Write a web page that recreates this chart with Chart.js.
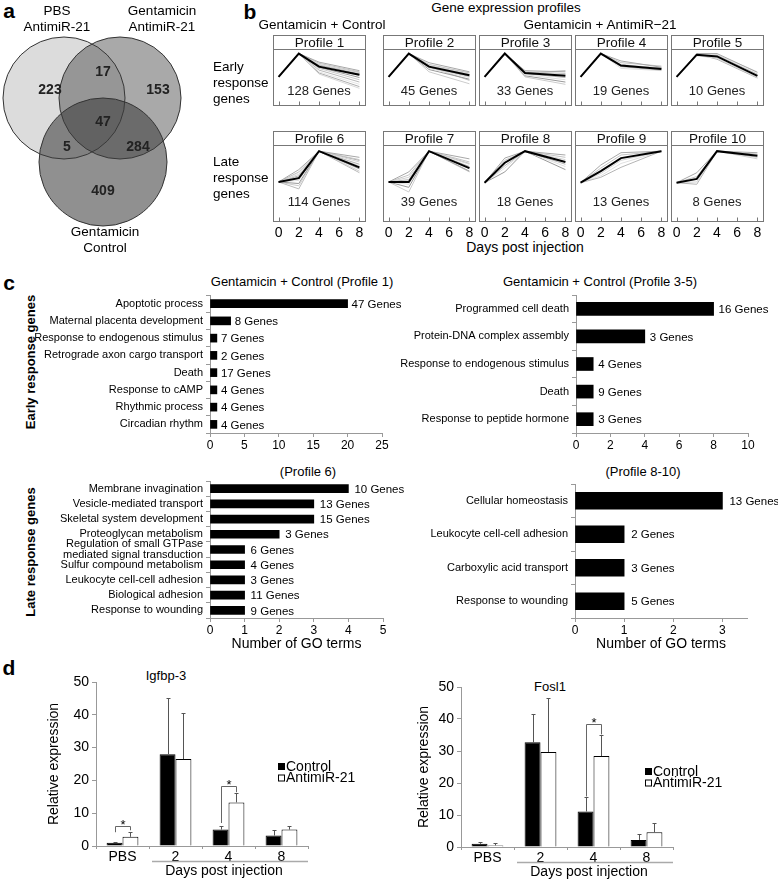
<!DOCTYPE html>
<html>
<head>
<meta charset="utf-8">
<script src="https://cdn.jsdelivr.net/npm/chart.js@4.4.1/dist/chart.umd.min.js"></script>
<style>
  html, body { margin: 0; padding: 0; background: #fff; }
  #fig { position: relative; width: 778px; height: 880px; overflow: hidden; font-family: "Liberation Sans", Arial, sans-serif; color: #000; }
  #fig canvas { position: absolute; }
  .t { position: absolute; white-space: pre; line-height: 16px; }
</style>
</head>
<body>
<div id="fig"></div>
<script>
// ---- a: Venn ----
const vennSets = ['PBS\nAntimiR-21', 'Gentamicin\nAntimiR-21', 'Gentamicin\nControl'];
const vennCounts = [223, 17, 153, 47, 5, 284, 409];

// ---- b: expression profiles (0-10 relative units) ----
const days = [0, 2, 4, 8];
const dayTicks = [0, 2, 4, 6, 8];
const profileNames = ['Profile 1', 'Profile 2', 'Profile 3', 'Profile 4', 'Profile 5',
  'Profile 6', 'Profile 7', 'Profile 8', 'Profile 9', 'Profile 10'];
const profileGenes = [128, 45, 33, 19, 10, 114, 39, 18, 13, 8];
const profileMean = [
  [5.1, 9.2, 6.9, 5.5], [5.1, 9.2, 6.9, 5.4], [5.1, 9.2, 5.8, 5.3], [5.1, 9.2, 7.1, 6.5], [5.1, 9.0, 8.7, 5.3],
  [5.2, 5.7, 9.2, 7.1], [5.2, 5.2, 9.2, 7.0], [5.1, 7.7, 9.2, 7.8], [5.1, 6.6, 8.3, 9.2], [5.1, 5.6, 9.2, 8.6]
];
const profileMembers = [
  [[5.1,9.2,7.7,6.2],[5.1,9.2,7.5,6.0],[5.1,9.2,7.3,5.8],[5.1,9.2,7.1,5.9],[5.1,9.2,7.0,5.3],[5.1,9.2,6.8,5.0],
   [5.1,9.2,6.6,4.6],[5.1,9.2,6.3,4.2],[5.1,9.2,6.0,3.8],[5.1,9.2,5.8,3.4],[5.1,9.2,5.6,3.1],[5.1,9.2,7.2,5.6]],
  [[5.1,9.2,7.6,6.0],[5.1,9.2,7.3,5.8],[5.1,9.2,7.1,5.6],[5.1,9.2,6.8,5.2],[5.1,9.2,6.6,5.0],[5.1,9.2,6.4,4.7],
   [5.1,9.2,6.0,3.9],[5.1,9.2,6.9,4.5],[5.1,9.2,7.0,5.9]],
  [[5.1,9.2,6.2,6.0],[5.1,9.2,6.0,5.7],[5.1,9.2,5.9,5.5],[5.1,9.2,5.7,5.0],[5.1,9.2,5.5,4.6],[5.1,9.2,5.3,4.2],
   [5.1,9.2,5.1,3.8],[5.1,9.2,5.8,6.2]],
  [[5.1,9.2,7.9,6.8],[5.1,9.2,7.6,7.0],[5.1,9.2,7.3,6.6],[5.1,9.2,6.9,6.3],[5.1,9.2,6.6,6.2],[5.1,9.2,7.0,6.7]],
  [[5.1,9.2,9.2,5.9],[5.1,8.9,8.9,5.6],[5.1,8.8,8.4,5.0],[5.1,9.1,8.2,4.9],[5.1,9.0,9.0,6.0]],
  [[5.2,6.8,9.2,8.4],[5.2,6.5,9.2,8.1],[5.2,6.2,9.2,7.8],[5.2,6.0,9.2,7.5],[5.2,5.4,9.2,7.3],[5.2,5.0,9.2,6.9],
   [5.2,4.7,9.2,6.6],[5.2,4.3,9.2,6.4],[5.2,6.4,9.2,7.0],[5.2,5.8,9.2,8.0]],
  [[5.2,6.5,9.2,8.2],[5.2,6.1,9.2,7.8],[5.2,5.8,9.2,7.5],[5.2,5.5,9.2,7.2],[5.2,4.9,9.2,6.9],[5.2,4.5,9.2,6.6],
   [5.2,3.9,9.2,6.5],[5.2,5.3,9.2,7.6]],
  [[5.1,8.3,9.2,8.7],[5.1,8.0,9.2,8.4],[5.1,7.6,9.2,8.1],[5.1,7.3,9.2,7.5],[5.1,7.0,9.2,7.2],[5.1,6.5,9.2,6.8]],
  [[5.1,7.4,9.0,9.2],[5.1,7.0,8.7,9.2],[5.1,6.3,8.0,9.2],[5.1,5.8,7.1,9.2],[5.1,6.0,7.6,9.2]],
  [[5.1,6.4,9.2,9.0],[5.1,5.9,9.2,8.4],[5.1,5.2,9.2,8.2],[5.1,4.9,9.2,8.8]]
];

// ---- c: GO terms ----
const goP1Terms = ['Apoptotic process', 'Maternal placenta development', 'Response to endogenous stimulus',
  'Retrograde axon cargo transport', 'Death', 'Response to cAMP', 'Rhythmic process', 'Circadian rhythm'];
const goP1Counts = [20, 3, 1, 1, 1, 1, 1, 1];
const goP1Genes = [47, 8, 7, 2, 17, 4, 4, 4];
const goP1Ticks = [0, 5, 10, 15, 20, 25];

const goP35Terms = ['Programmed cell death', 'Protein-DNA complex assembly', 'Response to endogenous stimulus',
  'Death', 'Response to peptide hormone'];
const goP35Counts = [8, 4, 1, 1, 1];
const goP35Genes = [16, 3, 4, 9, 3];
const goP35Ticks = [0, 2, 4, 6, 8, 10];

const goP6Terms = ['Membrane invagination', 'Vesicle-mediated transport', 'Skeletal system development',
  'Proteoglycan metabolism', ['Regulation of small GTPase', 'mediated signal transduction'],
  'Sulfur compound metabolism', 'Leukocyte cell-cell adhesion', 'Biological adhesion', 'Response to wounding'];
const goP6Counts = [4, 3, 3, 2, 1, 1, 1, 1, 1];
const goP6Genes = [10, 13, 15, 3, 6, 4, 3, 11, 9];
const goP6Ticks = [0, 1, 2, 3, 4, 5];

const goP810Terms = ['Cellular homeostasis', 'Leukocyte cell-cell adhesion', 'Carboxylic acid transport', 'Response to wounding'];
const goP810Counts = [3, 1, 1, 1];
const goP810Genes = [13, 2, 3, 5];
const goP810Ticks = [0, 1, 2, 3];

// ---- d: qPCR ----
const qpcrGroups = ['PBS', '2', '4', '8'];
const igfControl = [1.0, 28.0, 5.0, 3.2];
const igfControlErr = [0.2, 17.0, 1.2, 1.8];
const igfAnti = [2.8, 26.5, 13.3, 5.0];
const igfAntiErr = [1.6, 14.0, 2.8, 1.2];
const igfSig = [{ group: 0, top: 6.1, left: 4.2, right: 4.8 }, { group: 2, top: 18.3, left: 7.0, right: 16.4 }];
const foslControl = [1.0, 32.7, 11.1, 2.2];
const foslControlErr = [0.7, 9.0, 4.5, 1.9];
const foslAnti = [0.5, 29.7, 28.4, 4.6];
const foslAntiErr = [0.6, 17.0, 6.6, 3.0];
const foslSig = [{ group: 2, top: 38.4, left: 15.8, right: 35.2 }];

const FONT = '"Liberation Sans", Arial, sans-serif';
Chart.defaults.font.family = FONT;
Chart.defaults.color = '#000';
Chart.defaults.animation = false;
Chart.defaults.responsive = false;
Chart.defaults.events = [];
Chart.defaults.layout.autoPadding = false;
Chart.defaults.plugins.legend.display = false;
Chart.defaults.plugins.tooltip.enabled = false;

const fig = document.getElementById('fig');

function addCanvas(x, y, w, h) {
  const c = document.createElement('canvas');
  c.width = w; c.height = h;
  c.style.left = x + 'px'; c.style.top = y + 'px';
  c.style.width = w + 'px'; c.style.height = h + 'px';
  fig.appendChild(c);
  return c;
}

function addText(str, x, y, o = {}) {
  const d = document.createElement('div');
  d.className = 't';
  d.textContent = str;
  d.style.left = x + 'px';
  d.style.top = y + 'px';
  d.style.fontSize = (o.size || 13) + 'px';
  if (o.bold) d.style.fontWeight = 'bold';
  d.style.textAlign = o.align || 'center';
  const tx = o.align === 'left' ? '0' : '-50%';
  d.style.transform = `translate(${tx}, -50%)` + (o.rotate ? ` rotate(${o.rotate}deg)` : '');
  fig.appendChild(d);
}

// panel letters
addText('a', 9, 11, { size: 21, bold: true });
addText('b', 250, 12, { size: 21, bold: true });
addText('c', 9, 283, { size: 21, bold: true });
addText('d', 9, 668, { size: 21, bold: true });

// ================= a: Venn =================
const vennLayout = {
  circles: [{ x: 64, y: 98, r: 61 }, { x: 120, y: 98, r: 61 }, { x: 103, y: 162, r: 64 }],
  fills: ['rgba(60,60,60,0.18)', 'rgba(60,60,60,0.44)', 'rgba(60,60,60,0.57)'],
  countAt: [[50, 90], [103, 72], [158, 90], [103, 122], [67, 147], [138, 147], [103, 191]],
  nameAt: [[57, 19], [162, 19], [105, 240]]
};

const vennText = {
  id: 'vennText',
  afterDatasetsDraw(chart) {
    const { ctx, scales: { x, y } } = chart;
    ctx.save();
    ctx.font = 'bold 14px ' + FONT;
    ctx.fillStyle = '#222';
    ctx.textAlign = 'center';
    ctx.textBaseline = 'middle';
    vennCounts.forEach((n, i) => {
      const p = vennLayout.countAt[i];
      ctx.fillText(String(n), x.getPixelForValue(p[0]), y.getPixelForValue(p[1]));
    });
    ctx.restore();
  }
};

new Chart(addCanvas(0, 0, 240, 260), {
  type: 'bubble',
  data: {
    datasets: [{
      data: vennLayout.circles.map(c => ({ x: c.x, y: c.y, r: c.r })),
      backgroundColor: vennLayout.fills,
      borderColor: '#333',
      borderWidth: 1,
      clip: false
    }]
  },
  options: {
    layout: { padding: 0, autoPadding: false },
    scales: {
      x: { type: 'linear', min: 0, max: 240, display: false },
      y: { type: 'linear', min: 0, max: 260, reverse: true, display: false }
    }
  },
  plugins: [vennText]
});
vennSets.forEach((s, i) => addText(s, vennLayout.nameAt[i][0], vennLayout.nameAt[i][1], { size: 13.5 }));

// ================= b: profiles =================
addText('Gene expression profiles', 506, 8, { size: 13.5 });
addText('Gentamicin + Control', 322, 25, { size: 13.5 });
addText('Gentamicin + AntimiR\u221221', 600, 25, { size: 13.5 });
addText('Early\nresponse\ngenes', 213, 83, { size: 13.5, align: 'left' });
addText('Late\nresponse\ngenes', 213, 178, { size: 13.5, align: 'left' });
addText('Days post injection', 525, 247, { size: 14 });

const greys = ['#a8a8a8', '#c4c4c4', '#d4d4d4', '#b4b4b4', '#e0e0e0', '#999999', '#cccccc', '#bababa',
  '#e6e6e6', '#aeaeae', '#d9d9d9', '#a0a0a0'];

const profileFrame = {
  id: 'profileFrame',
  afterDatasetsDraw(chart, args, opts) {
    const { ctx, chartArea: a, scales: { x, y } } = chart;
    const L = Math.round(a.left) + 0.5, R = Math.round(a.right) - 0.5;
    const T = Math.round(a.top) + 0.5, B = Math.round(a.bottom) - 0.5;
    ctx.save();
    ctx.strokeStyle = '#777';
    ctx.lineWidth = 1;
    ctx.strokeRect(L, 0.5, R - L, T - 0.5);
    ctx.strokeRect(L, T, R - L, B - T);
    ctx.beginPath();
    dayTicks.forEach(v => {
      const px = Math.round(x.getPixelForValue(v)) + 0.5;
      ctx.moveTo(px, B);
      ctx.lineTo(px, B - 4);
    });
    ctx.stroke();
    ctx.textAlign = 'center';
    ctx.textBaseline = 'middle';
    ctx.fillStyle = '#111';
    ctx.font = '13.5px ' + FONT;
    ctx.fillText(opts.title, (L + R) / 2, T / 2 + 1);
    ctx.fillStyle = '#222';
    ctx.font = '13px ' + FONT;
    ctx.fillText(opts.genes + ' Genes', x.getPixelForValue(4), y.getPixelForValue(2.6));
    ctx.restore();
  }
};

const boxLeft = [272, 382, 478, 574, 670];
profileNames.forEach((name, i) => {
  const row = i < 5 ? 0 : 1;
  const top = row ? 131 : 35;
  const h = 14 + 77 + (row ? 20 : 0);
  const toPts = vals => days.map((d, k) => ({ x: d, y: vals[k] }));
  const datasets = [{ data: toPts(profileMean[i]), borderColor: '#000', borderWidth: 2 }]
    .concat(profileMembers[i].map((m, j) => ({ data: toPts(m), borderColor: greys[j % greys.length], borderWidth: 1 })));
  new Chart(addCanvas(boxLeft[i % 5], top, 94, h), {
    type: 'line',
    data: { datasets },
    options: {
      elements: { point: { radius: 0 }, line: { tension: 0 } },
      layout: { padding: { top: 14, left: 0.5, right: 0.5, bottom: 0 } },
      scales: {
        x: {
          type: 'linear', min: -0.6, max: 8.6, display: row === 1,
          afterBuildTicks: s => { s.ticks = dayTicks.map(v => ({ value: v })); },
          afterFit: s => { s.height = 20; s.paddingLeft = 0; s.paddingRight = 0; },
          grid: { display: false, drawTicks: false },
          border: { display: false },
          ticks: { font: { size: 14 }, padding: 3, maxRotation: 0 }
        },
        y: { min: 0, max: 10, display: false }
      },
      plugins: { profileFrame: { title: name, genes: profileGenes[i] } }
    },
    plugins: [profileFrame]
  });
});

// ================= c: GO bars =================
addText('Early response genes', 31, 362, { size: 13, bold: true, rotate: -90 });
addText('Late response genes', 31, 552, { size: 13, bold: true, rotate: -90 });
addText('Gentamicin + Control (Profile 1)', 302, 282, { size: 13 });
addText('Gentamicin + Control (Profile 3-5)', 600, 282, { size: 13 });
addText('(Profile 6)', 308, 472, { size: 13 });
addText('(Profile 8-10)', 643, 472, { size: 13 });

const barNotes = {
  id: 'barNotes',
  afterDatasetsDraw(chart, args, opts) {
    const { ctx } = chart;
    ctx.save();
    ctx.font = '11.5px ' + FONT;
    ctx.fillStyle = '#000';
    ctx.textAlign = 'left';
    ctx.textBaseline = 'middle';
    chart.getDatasetMeta(0).data.forEach((bar, i) => {
      ctx.fillText(opts.genes[i] + ' Genes', bar.x + opts.gap, bar.y + 1);
    });
    ctx.restore();
  }
};

function goChart(box, terms, counts, genes, ticks, max, barTh, gap, axisTitle) {
  new Chart(addCanvas(box.x, box.y, box.w, box.h), {
    type: 'bar',
    data: { labels: terms, datasets: [{ data: counts, backgroundColor: '#000', barThickness: barTh }] },
    options: {
      indexAxis: 'y',
      layout: { padding: { top: 0, right: box.padR, left: 0, bottom: 0 } },
      scales: {
        x: {
          min: 0, max,
          afterBuildTicks: s => { s.ticks = ticks.map(v => ({ value: v })); },
          afterFit: s => { s.height = axisTitle ? 38 : 20; },
          grid: { drawOnChartArea: false, color: '#999', tickLength: 4 },
          border: { color: '#999' },
          ticks: { font: { size: 12 }, padding: 1, maxRotation: 0 },
          title: { display: !!axisTitle, text: axisTitle, font: { size: 14 }, padding: { top: 2, bottom: 3 } }
        },
        y: {
          afterFit: s => { s.width = box.yW; s.paddingTop = 0; s.paddingBottom = 0; },
          grid: { drawOnChartArea: false, color: '#999', tickLength: 4 },
          border: { color: '#999' },
          ticks: { font: { size: 11, lineHeight: 1.0 }, padding: 3, autoSkip: false }
        }
      },
      plugins: { barNotes: { genes, gap } }
    },
    plugins: [barNotes]
  });
}

goChart({ x: 0, y: 295, w: 420, h: 158, yW: 210, padR: 38 }, goP1Terms, goP1Counts, goP1Genes, goP1Ticks, 25, 8, 4, null);
goChart({ x: 400, y: 295, w: 378, h: 158, yW: 176, padR: 30 }, goP35Terms, goP35Counts, goP35Genes, goP35Ticks, 10, 13, 5, null);
goChart({ x: 0, y: 481, w: 420, h: 175, yW: 210, padR: 37 }, goP6Terms, goP6Counts, goP6Genes, goP6Ticks, 5, 8, 6, 'Number of GO terms');
goChart({ x: 400, y: 484, w: 378, h: 172, yW: 175, padR: 31 }, goP810Terms, goP810Counts, goP810Genes, goP810Ticks, 3.5, 17, 7, 'Number of GO terms');

// ================= d: qPCR bars =================
addText('Igfbp-3', 166, 676, { size: 13 });
addText('Fosl1', 550, 687, { size: 13 });

const qpcrExtras = {
  id: 'qpcrExtras',
  afterDatasetsDraw(chart, args, o) {
    const { ctx, chartArea: a, scales: { x, y } } = chart;
    ctx.save();
    // error bars (upper half)
    ctx.strokeStyle = '#555';
    ctx.lineWidth = 1;
    [0, 1].forEach(ds => {
      const vals = chart.data.datasets[ds].data;
      chart.getDatasetMeta(ds).data.forEach((bar, i) => {
        const px = Math.round(bar.x) + 0.5;
        const top = Math.round(y.getPixelForValue(vals[i] + o.errors[ds][i])) + 0.5;
        ctx.beginPath();
        ctx.moveTo(px, bar.y);
        ctx.lineTo(px, top);
        ctx.moveTo(px - 2, top);
        ctx.lineTo(px + 2, top);
        ctx.stroke();
      });
    });
    // significance brackets
    const m0 = chart.getDatasetMeta(0), m1 = chart.getDatasetMeta(1);
    ctx.strokeStyle = '#666';
    o.sig.forEach(s => {
      const xl = Math.round(m0.data[s.group].x) + 0.5;
      const xr = Math.round(m1.data[s.group].x) + 0.5;
      const yt = Math.round(y.getPixelForValue(s.top)) + 0.5;
      ctx.beginPath();
      ctx.moveTo(xl, y.getPixelForValue(s.left));
      ctx.lineTo(xl, yt);
      ctx.lineTo(xr, yt);
      ctx.lineTo(xr, y.getPixelForValue(s.right));
      ctx.stroke();
      ctx.fillStyle = '#000';
      ctx.font = '13px ' + FONT;
      ctx.textAlign = 'center';
      ctx.textBaseline = 'alphabetic';
      ctx.fillText('*', (xl + xr) / 2, yt + 2);
    });
    // legend
    chart.data.datasets.forEach((ds, k) => {
      const ly = o.legend.y + k * 11.5;
      ctx.fillStyle = ds.backgroundColor;
      ctx.fillRect(o.legend.x + 0.5, ly - 3.5, 6, 6);
      ctx.strokeStyle = '#000';
      ctx.strokeRect(o.legend.x + 0.5, ly - 3.5, 6, 6);
      ctx.fillStyle = '#000';
      ctx.font = '14px ' + FONT;
      ctx.textAlign = 'left';
      ctx.textBaseline = 'middle';
      ctx.fillText(ds.label, o.legend.x + 8, ly);
    });
    // "Days post injection" bracket under the day groups
    const step = x.getPixelForValue(1) - x.getPixelForValue(0);
    const x0 = x.getPixelForValue(1) - step / 2 + 3;
    const ly = Math.round(a.bottom + 15) + 0.5;
    ctx.strokeStyle = '#aaa';
    ctx.lineWidth = 1.5;
    ctx.beginPath();
    ctx.moveTo(x0, ly);
    ctx.lineTo(a.right, ly);
    ctx.stroke();
    ctx.fillStyle = '#000';
    ctx.font = '14px ' + FONT;
    ctx.textAlign = 'center';
    ctx.textBaseline = 'middle';
    ctx.fillText(o.daysTitle, (x0 + a.right) / 2 - 6, ly + 10);
    ctx.restore();
  }
};

function qpcrChart(box, ctrl, ctrlErr, anti, antiErr, sig, legend) {
  new Chart(addCanvas(box.x, box.y, box.w, box.h), {
    type: 'bar',
    data: {
      labels: qpcrGroups,
      datasets: [
        { label: 'Control', data: ctrl, backgroundColor: '#000', borderColor: '#000', borderWidth: 1, categoryPercentage: 0.6, barPercentage: 1 },
        { label: 'AntimiR-21', data: anti, backgroundColor: '#fff', borderColor: '#000', borderWidth: 1, categoryPercentage: 0.6, barPercentage: 1 }
      ]
    },
    options: {
      layout: { padding: { top: box.padT, right: box.padR, left: 0, bottom: 0 } },
      scales: {
        x: {
          afterFit: s => { s.height = box.xH; },
          grid: { drawOnChartArea: false, color: '#999', tickLength: 3 },
          border: { color: '#999' },
          ticks: { font: { size: 14 }, padding: 0 }
        },
        y: {
          min: 0, max: 50,
          afterFit: s => { s.width = box.yW; },
          grid: { drawOnChartArea: false, color: '#999', tickLength: 4 },
          border: { color: '#999' },
          ticks: { stepSize: 10, font: { size: 14 }, padding: 3 },
          title: { display: true, text: 'Relative expression', font: { size: 14 }, padding: { top: 0, bottom: 0 } }
        }
      },
      plugins: { qpcrExtras: { errors: [ctrlErr, antiErr], sig, legend, daysTitle: 'Days post injection' } }
    },
    plugins: [qpcrExtras]
  });
}

qpcrChart({ x: 46, y: 665, w: 344, h: 215, padT: 17, padR: 82, xH: 34, yW: 50 },
  igfControl, igfControlErr, igfAnti, igfAntiErr, igfSig, { x: 232, y: 102 });
qpcrChart({ x: 416, y: 665, w: 362, h: 215, padT: 22, padR: 105, xH: 33, yW: 45 },
  foslControl, foslControlErr, foslAnti, foslAntiErr, foslSig, { x: 229, y: 107 });
</script>
</body>
</html>
